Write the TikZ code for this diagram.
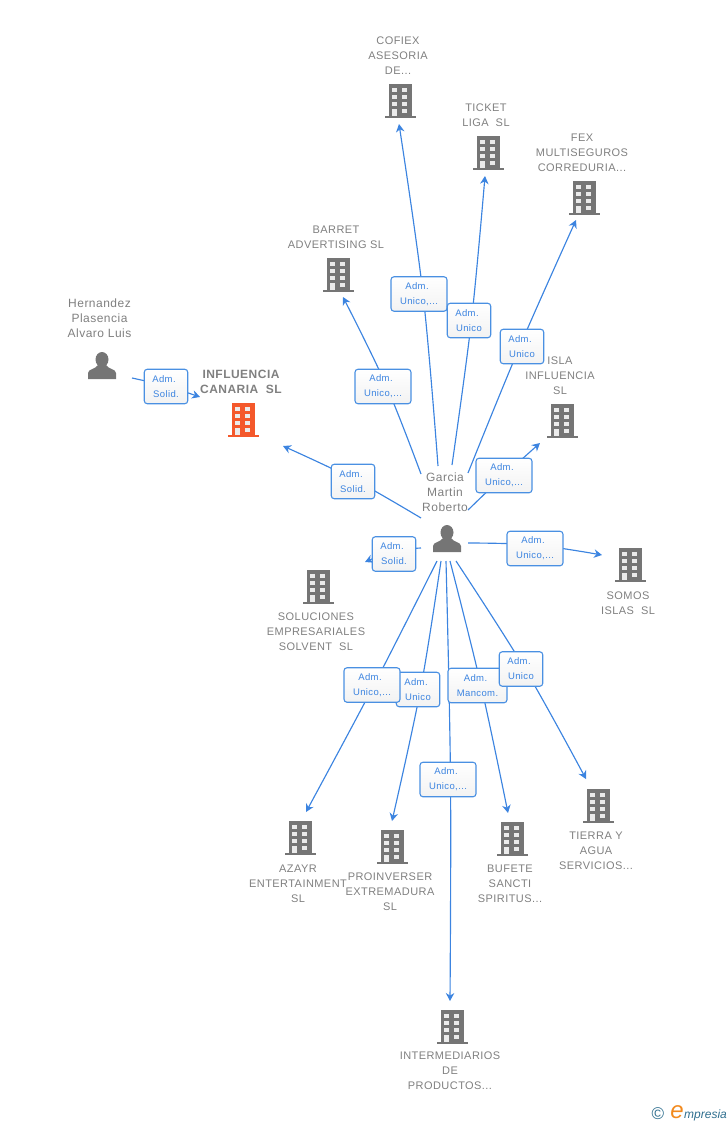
\documentclass[tikz,border=0pt]{standalone}
\usepackage{fontspec}
\setmainfont{Liberation Sans}
\usetikzlibrary{arrows.meta}
\definecolor{txtg}{HTML}{808080}
\definecolor{icong}{HTML}{757575}
\definecolor{orng}{HTML}{F4582B}
\definecolor{lnblue}{HTML}{3C84E0}
\definecolor{boxblue}{HTML}{4A90E2}
\definecolor{teal}{HTML}{2F6F8F}
\definecolor{logoor}{HTML}{F28A1E}
\newfontfamily\trk[LetterSpace=4]{Liberation Sans}
\newcommand{\adm}{Adm.\hspace*{4pt}}
\tikzset{
 x=1pt,y=-1pt,
 edge/.style={draw=lnblue,line width=1.15pt,-{Stealth[length=8pt,width=8.5pt]}},
 lab/.style={align=center,text=txtg,font=\fontsize{11}{15}\selectfont\trk,inner sep=0pt},
 perlab/.style={lab,font=\fontsize{12}{15}\selectfont\trk},
 main/.style={lab,font=\fontsize{12}{15}\selectfont\bfseries\trk},
 rel/.style={draw=boxblue,line width=1.1pt,rounded corners=3pt,top color=white,bottom color=white!95!black,text=lnblue,align=center,font=\fontsize{9.5}{15}\selectfont\trk,inner sep=0pt,minimum height=34.5pt},
 relw/.style={rel,minimum width=56pt},
 reln/.style={rel,minimum width=43.5pt},
 relm/.style={rel,minimum width=59pt},
 pics/bldg/.style={code={
  \fill[#1] (-11.5,-17) rectangle (11.5,15);
  \fill[#1] (-15.5,15) rectangle (15.5,17);
  \foreach \yy in {-13,-6.3,1}{
   \fill[white!92!black] (-8,\yy) rectangle (-3,\yy+4.3);
   \fill[white!92!black] (2,\yy) rectangle (7,\yy+4.3);}
  \fill[white!92!black] (-8,8) rectangle (-3,15);
  \fill[white!92!black] (2,8) rectangle (7,12);
 }},
 pics/pers/.style={code={
  \fill[icong] (0,-6.5) ellipse (6.5 and 7.5);
  \fill[icong] (-14,13) -- (-14,7) .. controls (-14,3) and (-6,3) .. (-4,-1) -- (4,-1) .. controls (6,3) and (14,3) .. (14,7) -- (14,13) -- cycle;
 }}
}
\begin{document}
\begin{tikzpicture}
\useasboundingbox (0,0) rectangle (728,1125);
% free ends
\coordinate (sH) at (132,378); \coordinate (tH) at (166,386); \coordinate (eH) at (200,397);
\coordinate (s1) at (421,518); \coordinate (t1) at (353,479); \coordinate (e1) at (283,446);
\coordinate (s2) at (421,474); \coordinate (t2) at (386,385); \coordinate (e2) at (343,297);
\coordinate (s3) at (438,466); \coordinate (t3) at (423,294); \coordinate (e3) at (399,124);
\coordinate (s4) at (452,465); \coordinate (t4) at (471.5,320); \coordinate (e4) at (485,176);
\coordinate (s5) at (468,473); \coordinate (t5) at (520,346); \coordinate (e5) at (576,220);
\coordinate (s6) at (468,510); \coordinate (t6) at (504,475.5); \coordinate (e6) at (540,443);
\coordinate (s7) at (468,543); \coordinate (t7) at (535,545); \coordinate (e7) at (602,555);
\coordinate (s8) at (421,548); \coordinate (t8) at (394,551); \coordinate (e8) at (365,562);
\coordinate (s9) at (437,561); \coordinate (t9) at (374,685); \coordinate (e9) at (306,812);
\coordinate (s10) at (441,561); \coordinate (t10) at (420.5,689.5); \coordinate (e10) at (392,821);
\coordinate (s11) at (446,561); \coordinate (t11) at (450.5,779); \coordinate (e11) at (450,1001);
\coordinate (s12) at (450,561); \coordinate (t12) at (481,685.5); \coordinate (e12) at (508,813);
\coordinate (s13) at (456,561); \coordinate (t13) at (525,669); \coordinate (e13) at (586,779);
% connectors
\draw[edge] plot[smooth,tension=.6] coordinates {(sH)(tH)(eH)};
\foreach \i in {1,...,13}{
 \draw[edge] plot[smooth,tension=.6] coordinates {(s\i)(t\i)(e\i)};
}
% relation boxes
\node[reln] (rH) at (166,386.5) {\adm\\Solid.};
\node[reln] (r1) at (353,481.5) {\adm\\Solid.};
\node[relw] (r2) at (383,386.5) {\adm\\Unico,...};
\node[relw] (r3) at (419,294) {\adm\\Unico,...};
\node[reln] (r4) at (469,320.5) {\adm\\Unico};
\node[reln] (r5) at (522,346.5) {\adm\\Unico};
\node[relw] (r6) at (504,475.5) {\adm\\Unico,...};
\node[relw] (r7) at (535,548.5) {\adm\\Unico,...};
\node[reln] (r8) at (394,554) {\adm\\Solid.};
\node[reln] (r10) at (418,689.5) {\adm\\Unico};
\node[relw] (r9) at (372,685) {\adm\\Unico,...};
\node[relw] (r11) at (448,779.5) {\adm\\Unico,...};
\node[relm] (r12) at (477.5,685.5) {\adm\\Mancom.};
\node[reln] (r13) at (521,669) {\adm\\Unico};
% icons
\pic at (400,101) {bldg=icong};
\pic at (488,153) {bldg=icong};
\pic at (584,198) {bldg=icong};
\pic at (338,275) {bldg=icong};
\pic at (243,420) {bldg=orng};
\pic at (562,421) {bldg=icong};
\pic at (630,565) {bldg=icong};
\pic at (318,587) {bldg=icong};
\pic at (598,806) {bldg=icong};
\pic at (512,839) {bldg=icong};
\pic at (392,847) {bldg=icong};
\pic at (300,838) {bldg=icong};
\pic at (452,1027) {bldg=icong};
\pic at (447,539) {pers};
\pic at (102,366) {pers};
% labels
\node[lab] (l1) at (398,55.5) {COFIEX\\ASESORIA\\DE...};
\node[lab] (l2) at (486,115) {TICKET\\LIGA\ \ SL};
\node[lab] (l3) at (582,152.5) {FEX\\MULTISEGUROS\\CORREDURIA...};
\node[lab] (l4) at (336,237) {BARRET\\ADVERTISING SL};
\node[perlab] (l5) at (99.5,318) {Hernandez\\Plasencia\\Alvaro Luis};
\node[main] (l6) at (241,381.5) {INFLUENCIA\\CANARIA\ \ SL};
\node[lab] (l7) at (560,375.5) {ISLA\\INFLUENCIA\\SL};
\node[perlab] (l8) at (445,492) {Garcia\\Martin\\Roberto};
\node[lab] (l9) at (628,603) {SOMOS\\ISLAS\ \ SL};
\node[lab] (l10) at (316,631.5) {SOLUCIONES\\EMPRESARIALES\\SOLVENT\ \ SL};
\node[lab] (l11) at (596,850.5) {TIERRA Y\\AGUA\\SERVICIOS...};
\node[lab] (l12) at (510,883.5) {BUFETE\\SANCTI\\SPIRITUS...};
\node[lab] (l13) at (390,892) {PROINVERSER\\EXTREMADURA\\SL};
\node[lab] (l14) at (298,883.5) {AZAYR\\ENTERTAINMENT\\SL};
\node[lab] (l15) at (450,1071) {INTERMEDIARIOS\\DE\\PRODUCTOS...};
% logo
\node[inner sep=0pt,text=teal,font=\fontsize{17}{17}\selectfont] (c) at (658,1114) {©};
\node[inner sep=0pt,text=logoor,font=\fontsize{24}{24}\selectfont\itshape] (e) at (677,1112) {e};
\node[inner sep=0pt,text=teal,font=\fontsize{12}{12}\selectfont\itshape,anchor=west] (m) at (684,1115) {mpresia};
\end{tikzpicture}
\end{document}
